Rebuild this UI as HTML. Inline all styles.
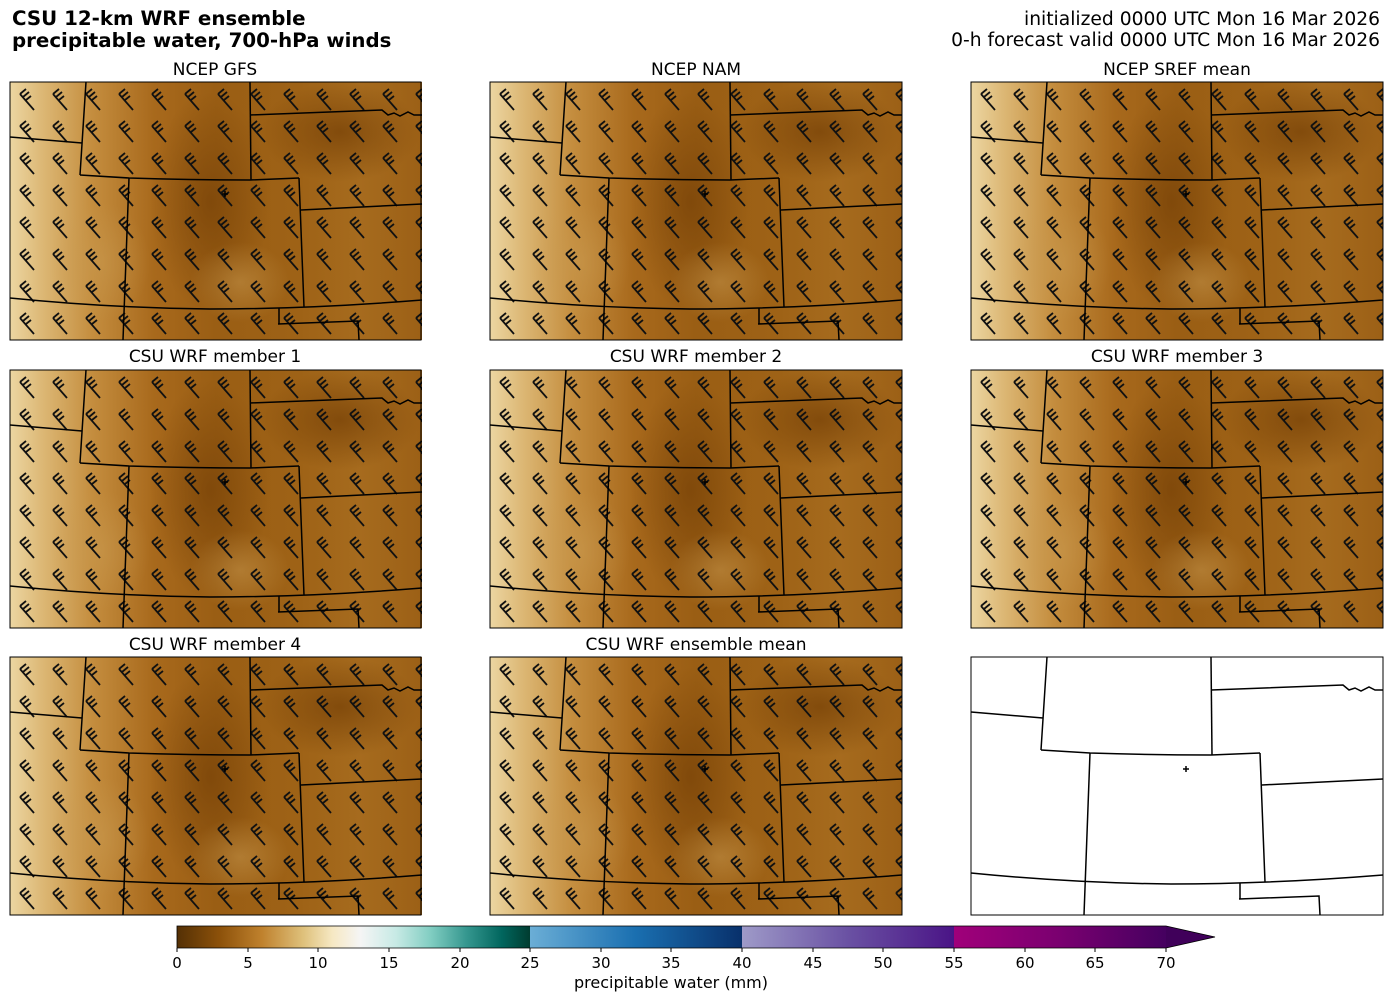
<!DOCTYPE html>
<html><head><meta charset="utf-8"><style>
body{margin:0;background:#fff}
svg{display:block;font-family:"DejaVu Sans","Liberation Sans",sans-serif}
</style></head><body>
<svg width="1392" height="1001" viewBox="0 0 1392 1001" xmlns="http://www.w3.org/2000/svg">
<defs>
<linearGradient id="bg" x1="0" y1="0" x2="1" y2="0">
<stop offset="0" stop-color="#ecd6a2"/>
<stop offset="0.08" stop-color="#dcb774"/>
<stop offset="0.2" stop-color="#c48d3e"/>
<stop offset="0.35" stop-color="#a8691c"/>
<stop offset="0.5" stop-color="#9a5e14"/>
<stop offset="0.7" stop-color="#9e6216"/>
<stop offset="0.85" stop-color="#a66b1e"/>
<stop offset="1" stop-color="#9c6016"/>
</linearGradient>
<radialGradient id="dk" cx="0.5" cy="0.5" r="0.5">
<stop offset="0" stop-color="#7a4408" stop-opacity="0.8"/>
<stop offset="1" stop-color="#7a4408" stop-opacity="0"/>
</radialGradient>
<radialGradient id="lt" cx="0.5" cy="0.5" r="0.5">
<stop offset="0" stop-color="#c99a50" stop-opacity="0.5"/>
<stop offset="1" stop-color="#c99a50" stop-opacity="0"/>
</radialGradient>
<pattern id="barbs" x="4" y="6" width="33" height="32" patternUnits="userSpaceOnUse">
<g stroke="#111" stroke-width="1.8" fill="none">
<path d="M6 6 L20 22"/>
<path d="M6 6 L12 1 M9 9 L15 4 M12 12 L17 8"/>
</g>
</pattern>
<g id="map" fill="none" stroke="#000" stroke-width="1.5">
<path d="M76 0 L70 93 M0 55 L72 61"/>
<path d="M70 93 L119 96 Q180 98 240 98 L289 96"/>
<path d="M240 0 L241 98"/>
<path d="M119 96 L113 258"/>
<path d="M289 96 L294 225"/>
<path d="M240 33 L372 28 L378 33 L384 31 L390 34 L398 30 L404 33 L412 33"/>
<path d="M291 128 L412 122"/>
<path d="M0 216 Q100 226 200 227 Q300 227 412 218"/>
<path d="M269 226 L269 242 M268 242 L348 239 L349 258"/>
<path d="M212 112 h6 M215 109 v6"/>
</g>
<g id="fill">
<rect width="412" height="258" fill="url(#bg)"/>
<ellipse cx="200" cy="120" rx="60" ry="110" fill="url(#dk)"/>
<ellipse cx="330" cy="50" rx="80" ry="50" fill="url(#dk)"/>
<ellipse cx="230" cy="200" rx="50" ry="40" fill="url(#lt)"/>
<ellipse cx="90" cy="180" rx="50" ry="60" fill="url(#lt)"/>
<rect width="412" height="258" fill="url(#barbs)"/>
</g>
<linearGradient id="cb1" x1="0" x2="1">
<stop offset="0" stop-color="#543005"/><stop offset="0.12" stop-color="#8c510a"/>
<stop offset="0.24" stop-color="#bf812d"/><stop offset="0.36" stop-color="#dfc27d"/>
<stop offset="0.44" stop-color="#f6e8c3"/><stop offset="0.52" stop-color="#f5f5f5"/>
<stop offset="0.62" stop-color="#c7eae5"/><stop offset="0.72" stop-color="#80cdc1"/>
<stop offset="0.82" stop-color="#35978f"/><stop offset="0.92" stop-color="#01665e"/>
<stop offset="1" stop-color="#003c30"/>
</linearGradient>
<linearGradient id="cb2" x1="0" x2="1"><stop offset="0" stop-color="#6baed6"/><stop offset="0.5" stop-color="#1a6fb0"/><stop offset="1" stop-color="#08306b"/></linearGradient>
<linearGradient id="cb3" x1="0" x2="1"><stop offset="0" stop-color="#9e9ac8"/><stop offset="0.5" stop-color="#6a51a3"/><stop offset="1" stop-color="#4a1486"/></linearGradient>
<linearGradient id="cb4" x1="0" x2="1"><stop offset="0" stop-color="#a0007a"/><stop offset="0.5" stop-color="#7a0070"/><stop offset="1" stop-color="#450060"/></linearGradient>
</defs>

<text x="12" y="25" font-size="19.8" font-weight="bold">CSU 12-km WRF ensemble</text>
<text x="12" y="47" font-size="19.8" font-weight="bold">precipitable water, 700-hPa winds</text>
<text x="1380" y="25" font-size="18.7" text-anchor="end">initialized 0000 UTC Mon 16 Mar 2026</text>
<text x="1380" y="46" font-size="18.7" text-anchor="end">0-h forecast valid 0000 UTC Mon 16 Mar 2026</text>

<g font-size="17" text-anchor="middle">
<text x="215" y="75">NCEP GFS</text>
<text x="696" y="75">NCEP NAM</text>
<text x="1177" y="75">NCEP SREF mean</text>
<text x="215" y="362">CSU WRF member 1</text>
<text x="696" y="362">CSU WRF member 2</text>
<text x="1177" y="362">CSU WRF member 3</text>
<text x="215" y="650">CSU WRF member 4</text>
<text x="696" y="650">CSU WRF ensemble mean</text>
</g>

<g transform="translate(10,82)"><use href="#fill"/><use href="#map"/><rect width="411" height="258" fill="none" stroke="#000"/></g>
<g transform="translate(490,82)"><use href="#fill"/><use href="#map"/><rect width="412" height="258" fill="none" stroke="#000"/></g>
<g transform="translate(971,82)"><use href="#fill"/><use href="#map"/><rect width="412" height="258" fill="none" stroke="#000"/></g>
<g transform="translate(10,370)"><use href="#fill"/><use href="#map"/><rect width="411" height="258" fill="none" stroke="#000"/></g>
<g transform="translate(490,370)"><use href="#fill"/><use href="#map"/><rect width="412" height="258" fill="none" stroke="#000"/></g>
<g transform="translate(971,370)"><use href="#fill"/><use href="#map"/><rect width="412" height="258" fill="none" stroke="#000"/></g>
<g transform="translate(10,657)"><use href="#fill"/><use href="#map"/><rect width="411" height="258" fill="none" stroke="#000"/></g>
<g transform="translate(490,657)"><use href="#fill"/><use href="#map"/><rect width="412" height="258" fill="none" stroke="#000"/></g>
<g transform="translate(971,657)"><use href="#map"/><rect width="412" height="258" fill="none" stroke="#000"/></g>

<rect x="177" y="926" width="353" height="22" fill="url(#cb1)"/>
<rect x="530" y="926" width="212" height="22" fill="url(#cb2)"/>
<rect x="742" y="926" width="212" height="22" fill="url(#cb3)"/>
<rect x="954" y="926" width="212" height="22" fill="url(#cb4)"/>
<path d="M1166 926 L1215 937 L1166 948 Z" fill="#40005a"/>
<path d="M177 926 H1166 L1215 937 L1166 948 H177 Z" fill="none" stroke="#000" stroke-width="0.8"/>
<g stroke="#000" stroke-width="1">
<path d="M177 948v4M248 948v4M318 948v4M389 948v4M460 948v4M530 948v4M601 948v4M671 948v4M742 948v4M813 948v4M883 948v4M954 948v4M1025 948v4M1095 948v4M1166 948v4"/>
</g>
<g font-size="15" text-anchor="middle">
<text x="177" y="968">0</text><text x="248" y="968">5</text><text x="318" y="968">10</text><text x="389" y="968">15</text><text x="460" y="968">20</text><text x="530" y="968">25</text><text x="601" y="968">30</text><text x="671" y="968">35</text><text x="742" y="968">40</text><text x="813" y="968">45</text><text x="883" y="968">50</text><text x="954" y="968">55</text><text x="1025" y="968">60</text><text x="1095" y="968">65</text><text x="1166" y="968">70</text>
<text x="671" y="988" font-size="16">precipitable water (mm)</text>
</g>
</svg>
</body></html>
